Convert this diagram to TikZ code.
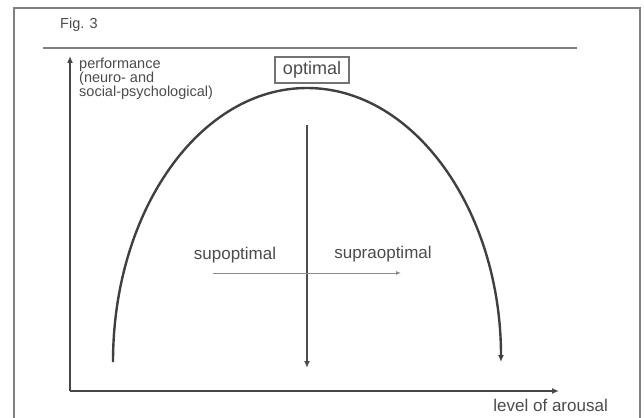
\documentclass[tikz,border=0pt]{standalone}
\usepackage{fontspec}
\setmainfont{Liberation Sans}
\usepackage{tikz}
\usetikzlibrary{arrows.meta,positioning}

\begin{document}
\begin{tikzpicture}[
  x=1pt, y=-1pt,
  txt/.style={text=black!70, inner sep=0pt, font=\fontsize{17}{17}\selectfont},
  small/.style={text=black!70, inner sep=0pt, align=left,
    font=\fontsize{14.5}{14}\selectfont},
  optbox/.style={draw=black!55, line width=1.1pt, text=black!70, minimum width=74pt,
    minimum height=26pt, inner sep=0pt, font=\fontsize{18}{18}\selectfont},
  axis/.style={-{Latex[length=7pt,width=6pt]}, line width=2.2pt, draw=black!72},
  curve/.style={line width=2.4pt, draw=black!75},
  arr/.style={-{Latex[length=7pt,width=6pt]}, line width=2.2pt, draw=black!70},
  thinarr/.style={-{Latex[length=5pt,width=4pt]}, line width=0.8pt, draw=black!45},
  frame/.style={line width=1.5pt, draw=black!50}
]
\useasboundingbox (0,0) rectangle (644,417);
\fill[white] (0,0) rectangle (644,417);

\draw[frame] (14,425) |- (640,8) -- (640,425);
\draw[frame] (43,48) -- (577,48);
\node[small, anchor=west] (fig) at (60,25) {Fig. 3};

\coordinate (orig) at (70,391);
\coordinate (ytip) at (70,56);
\coordinate (xtip) at (559,391);
\draw[axis] (orig) -- (ytip);
\draw[axis] (orig) -- (xtip);

\node[small, anchor=north west] (perf) at (79,58)
  {performance\\(neuro- and\\social-psychological)};
\node[txt, anchor=north east] (arousal) at (608,399) {level of arousal};

\node[optbox] (opt) at (312,70) {optimal};

\coordinate (cl) at (113,362);
\draw[curve, -{Latex[length=7pt,width=6pt]}] (cl)
  arc[start angle=180, end angle=0, x radius=194pt, y radius=274pt];

\coordinate (vtop) at (307,125);
\coordinate (vbot) at (307,368);
\draw[arr] (vtop) -- (vbot);

\node[txt] (sub) at (235,255) {supoptimal};
\node[txt] (supra) at (383,254) {supraoptimal};
\coordinate (hl) at (213,273);
\coordinate (hr) at (401,273);
\draw[thinarr] (hl) -- (hr);
\end{tikzpicture}
\end{document}
